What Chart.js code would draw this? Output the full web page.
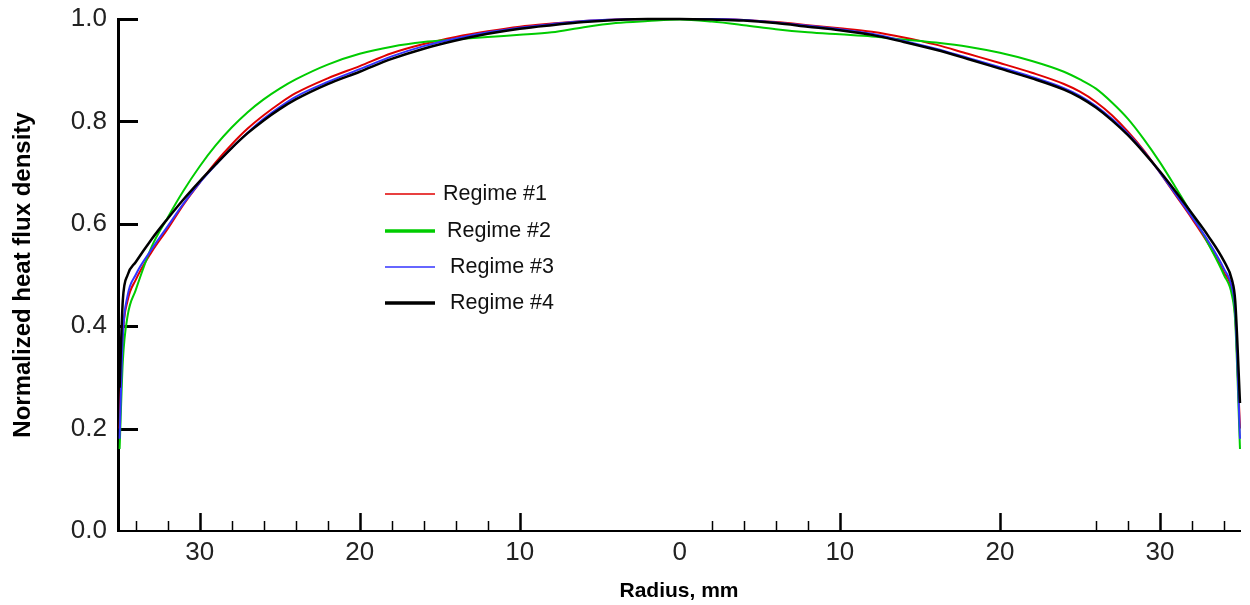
<!DOCTYPE html>
<html>
<head>
<meta charset="utf-8">
<script src="https://cdn.jsdelivr.net/npm/chart.js@4/dist/chart.umd.min.js"></script>
<style>
  html, body { margin: 0; padding: 0; background: #fff; }
  #wrap { width: 1250px; height: 605px; }
</style>
</head>
<body>
<div id="wrap"><canvas id="chart"></canvas></div>
<script>
// radius, mm (negative = left half of the profile)
const radius = [-35.0, -34.8, -34.5, -34, -33, -32, -31, -30, -29, -28, -27, -26, -25, -24,
    -22, -20, -18, -16, -14, -12, -10, -8, -6, -4, -2,
    0,
    2, 4, 6, 8, 10, 12, 14, 16, 18, 20, 22,
    24, 25, 26, 27, 28, 29, 30, 31, 32, 33, 34, 34.5, 34.7, 35.0];

const regime1 = [0.20, 0.38, 0.45, 0.49, 0.545, 0.59, 0.638, 0.68, 0.72, 0.755, 0.786, 0.812, 0.835, 0.855,
    0.884, 0.908, 0.933, 0.951, 0.965, 0.976, 0.985, 0.991, 0.996, 0.999, 1.0,
    1.0,
    1.0, 0.998, 0.994, 0.988, 0.982, 0.975, 0.964, 0.95, 0.932, 0.914, 0.895,
    0.873, 0.858, 0.838, 0.812, 0.78, 0.743, 0.70, 0.655, 0.61, 0.562, 0.505, 0.47, 0.42, 0.20];

const regime2 = [0.16, 0.33, 0.42, 0.47, 0.555, 0.612, 0.665, 0.712, 0.753, 0.788, 0.818, 0.843, 0.864, 0.882,
    0.911, 0.932, 0.946, 0.955, 0.96, 0.965, 0.969, 0.974, 0.984, 0.992, 0.996,
    0.999,
    0.995, 0.988, 0.98, 0.974, 0.97, 0.966, 0.96, 0.954, 0.946, 0.934, 0.918,
    0.897, 0.882, 0.864, 0.837, 0.805, 0.765, 0.72, 0.67, 0.618, 0.562, 0.50, 0.46, 0.41, 0.16];

const regime3 = [0.18, 0.38, 0.46, 0.50, 0.55, 0.595, 0.64, 0.68, 0.715, 0.748, 0.778, 0.805, 0.828, 0.848,
    0.877, 0.902, 0.927, 0.947, 0.962, 0.974, 0.983, 0.99, 0.996, 0.999, 1.0,
    1.0,
    1.0, 0.998, 0.993, 0.987, 0.98, 0.971, 0.957, 0.942, 0.924, 0.906, 0.887,
    0.865, 0.85, 0.83, 0.805, 0.776, 0.741, 0.70, 0.657, 0.613, 0.567, 0.512, 0.475, 0.43, 0.18];

const regime4 = [0.28, 0.45, 0.50, 0.525, 0.57, 0.61, 0.648, 0.683, 0.716, 0.748, 0.777, 0.802, 0.824, 0.843,
    0.873, 0.897, 0.922, 0.942, 0.958, 0.971, 0.981, 0.988, 0.994, 0.998, 1.0,
    1.0,
    0.999, 0.997, 0.992, 0.985, 0.978, 0.969, 0.955, 0.94, 0.922, 0.903, 0.884,
    0.862, 0.847, 0.827, 0.802, 0.773, 0.739, 0.702, 0.662, 0.62, 0.577, 0.527, 0.49, 0.45, 0.25];

const seriesNames = ['Regime #1', 'Regime #2', 'Regime #3', 'Regime #4'];
const seriesValues = [regime1, regime2, regime3, regime4];
const seriesColors = ['#e00000', '#00cc00', '#3333ff', '#000000'];

const xLabelTicks = [-30, -20, -10, 0, 10, 20, 30];
const xMajorMarks = [-30, -20, -10, 10, 20, 30];
const xMinorMarks = [-34, -32, -28, -26, -24, -22, -18, -16, -14, -12, 2, 4, 6, 8, 26, 28, 32, 34];
const yTicks = [0, 0.2, 0.4, 0.6, 0.8, 1.0];

const font = 'Liberation Sans, Arial, sans-serif';

// inward tick marks like the original plot
const axisMarks = {
    id: 'axisMarks',
    beforeDatasetsDraw(chart) {
        const {ctx, scales: {x, y}} = chart;
        ctx.save();
        ctx.strokeStyle = '#000';
        ctx.lineWidth = 3;
        yTicks.forEach(v => {
            if (v === 0) return;
            const py = Math.round(y.getPixelForValue(v)) + 0.5;
            ctx.beginPath();
            ctx.moveTo(x.left, py);
            ctx.lineTo(x.left + 20, py);
            ctx.stroke();
        });
        ctx.lineWidth = 2.5;
        xMajorMarks.forEach(v => {
            const px = Math.round(x.getPixelForValue(v)) + 0.5;
            ctx.beginPath();
            ctx.moveTo(px, y.bottom);
            ctx.lineTo(px, y.bottom - 18);
            ctx.stroke();
        });
        ctx.lineWidth = 1.5;
        xMinorMarks.forEach(v => {
            const px = Math.round(x.getPixelForValue(v)) + 0.5;
            ctx.beginPath();
            ctx.moveTo(px, y.bottom);
            ctx.lineTo(px, y.bottom - 10);
            ctx.stroke();
        });
        ctx.restore();
    },
    afterDatasetsDraw(chart) {
        // legend placed inside the plot
        const {ctx} = chart;
        const widths = [1.5, 3.5, 1.5, 3.5];
        const rows = [194, 231, 267, 303];
        ctx.save();
        ctx.font = '21.5px ' + font;
        ctx.fillStyle = '#111';
        ctx.textBaseline = 'middle';
        seriesNames.forEach((name, i) => {
            ctx.strokeStyle = seriesColors[i];
            ctx.lineWidth = widths[i];
            ctx.beginPath();
            ctx.moveTo(385, rows[i]);
            ctx.lineTo(435, rows[i]);
            ctx.stroke();
            ctx.fillText(name, i === 0 ? 443 : (i === 1 ? 447 : 450), rows[i]);
        });
        ctx.restore();
    }
};

const ctx = document.getElementById('chart').getContext('2d');
new Chart(ctx, {
    type: 'line',
    data: {
        datasets: seriesNames.map((name, i) => ({
            label: name,
            data: radius.map((r, k) => ({x: r, y: seriesValues[i][k]})),
            borderColor: seriesColors[i],
            backgroundColor: seriesColors[i],
            borderWidth: i === 3 ? 2.5 : 2,
            pointRadius: 0,
            cubicInterpolationMode: 'monotone',
            clip: false,
            order: 4 - i
        }))
    },
    options: {
        responsive: true,
        maintainAspectRatio: false,
        animation: false,
        layout: {padding: {left: 0, right: 10, top: 19, bottom: 0}},
        plugins: {
            legend: {display: false},
            tooltip: {enabled: false}
        },
        scales: {
            x: {
                type: 'linear',
                min: -35.1,
                max: 35.0,
                afterBuildTicks: s => { s.ticks = xLabelTicks.map(v => ({value: v})); },
                afterFit: s => { s.height = 74; s.paddingLeft = 0; s.paddingRight = 0; },
                grid: {display: false, drawTicks: false},
                border: {display: true, color: '#000', width: 2},
                ticks: {
                    padding: 6,
                    maxRotation: 0,
                    autoSkip: false,
                    color: '#222',
                    font: {family: font, size: 26},
                    callback: v => String(Math.abs(v))
                },
                title: {
                    display: true,
                    text: 'Radius, mm',
                    color: '#000',
                    font: {family: font, size: 21, weight: 'bold'},
                    padding: {top: 0, bottom: 1}
                }
            },
            y: {
                min: 0,
                max: 1.0,
                afterBuildTicks: s => { s.ticks = yTicks.map(v => ({value: v})); },
                afterFit: s => { s.width = 118; s.paddingTop = 0; s.paddingBottom = 0; },
                grid: {display: false, drawTicks: false},
                border: {display: true, color: '#000', width: 3},
                ticks: {
                    padding: 11,
                    color: '#222',
                    font: {family: font, size: 26},
                    callback: v => v.toFixed(1)
                },
                title: {
                    display: true,
                    text: 'Normalized heat flux density',
                    color: '#000',
                    font: {family: font, size: 24, weight: 'bold'},
                    padding: {top: 9, bottom: 0}
                }
            }
        }
    },
    plugins: [axisMarks]
});
</script>
</body>
</html>
